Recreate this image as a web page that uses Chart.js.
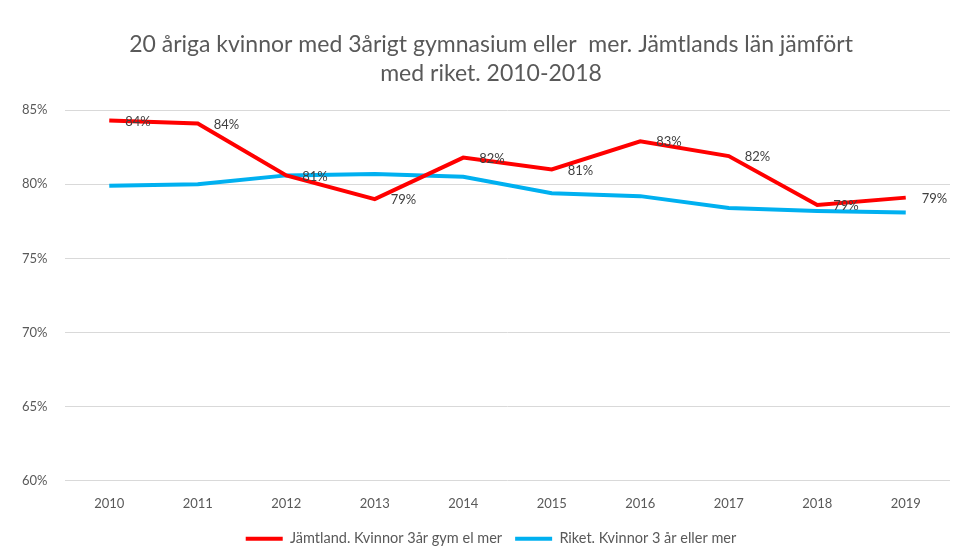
<!DOCTYPE html>
<html>
<head>
<meta charset="utf-8">
<script src="https://cdn.jsdelivr.net/npm/chart.js@4"></script>
<style>
  html, body { margin: 0; padding: 0; background: #fff; }
  #wrap { width: 959px; height: 560px; }
</style>
</head>
<body>
<div id="wrap"><canvas id="chart" width="959" height="560"></canvas></div>
<script>
const years = ["2010", "2011", "2012", "2013", "2014", "2015", "2016", "2017", "2018", "2019"];
const jamtland = [84.3, 84.1, 80.6, 79.0, 81.8, 81.0, 82.9, 81.9, 78.6, 79.1];
const riket = [79.9, 80.0, 80.6, 80.7, 80.5, 79.4, 79.2, 78.4, 78.2, 78.1];
const seriesNames = ["Jämtland. Kvinnor 3år gym el mer", "Riket. Kvinnor 3 år eller mer"];
const titleLines = ["20 åriga kvinnor med 3årigt gymnasium eller  mer. Jämtlands län jämfört", "med riket. 2010-2018"];

const textColor = "#595959";
const fontFam = "Lato, 'Open Sans', sans-serif";

// egen etikettplugin (datalabels finns inte lokalt)
const redLabels = {
  id: "redLabels",
  afterDatasetsDraw(chart) {
    const ctx = chart.ctx;
    const meta = chart.getDatasetMeta(0);
    ctx.save();
    ctx.font = "13px " + fontFam;
    ctx.fillStyle = "#404040";
    ctx.textAlign = "left";
    ctx.textBaseline = "middle";
    meta.data.forEach((pt, i) => {
      ctx.fillText(Math.round(jamtland[i]) + "%", pt.x + 16, pt.y + 1);
    });
    ctx.restore();
  }
};

new Chart(document.getElementById("chart").getContext("2d"), {
  type: "line",
  data: {
    labels: years,
    datasets: [
      { label: seriesNames[0], data: jamtland, borderColor: "#ff0000", backgroundColor: "#ff0000", borderWidth: 4, pointRadius: 0, tension: 0 },
      { label: seriesNames[1], data: riket, borderColor: "#00b0f0", backgroundColor: "#00b0f0", borderWidth: 4, pointRadius: 0, tension: 0 }
    ]
  },
  options: {
    responsive: false,
    animation: false,
    // vänsterpadding flyttar titel och förklaring mot mitten av ritytan
    layout: { padding: { left: 32, right: 9, top: 0, bottom: 4 } },
    scales: {
      x: {
        offset: true,
        grid: { display: false },
        border: { display: false },
        ticks: { color: textColor, font: { family: fontFam, size: 13 }, padding: 7, maxRotation: 0 }
      },
      y: {
        min: 60,
        max: 85,
        grid: { color: "#d9d9d9", drawTicks: false },
        border: { display: false },
        afterFit: (s) => { s.width = 33; },
        // mirror + negativ padding så att etiketterna inte klipps i paddingen
        ticks: { stepSize: 5, mirror: true, color: textColor, font: { family: fontFam, size: 13 }, padding: -43, callback: (v) => v + "%" }
      }
    },
    plugins: {
      title: {
        display: true,
        text: titleLines,
        color: textColor,
        font: { family: fontFam, size: 23, weight: "normal", lineHeight: 1.22 },
        padding: { top: 31, bottom: 23 }
      },
      legend: {
        position: "bottom",
        labels: {
          color: textColor,
          font: { family: fontFam, size: 14.5 },
          boxWidth: 37,
          boxHeight: 4,
          padding: 13,
          generateLabels: (chart) => chart.data.datasets.map((d, i) => ({
            text: d.label,
            fillStyle: d.borderColor,
            strokeStyle: d.borderColor,
            lineWidth: 0,
            fontColor: textColor,
            hidden: false,
            datasetIndex: i
          }))
        }
      },
      tooltip: { enabled: false }
    }
  },
  plugins: [redLabels]
});
</script>
</body>
</html>
